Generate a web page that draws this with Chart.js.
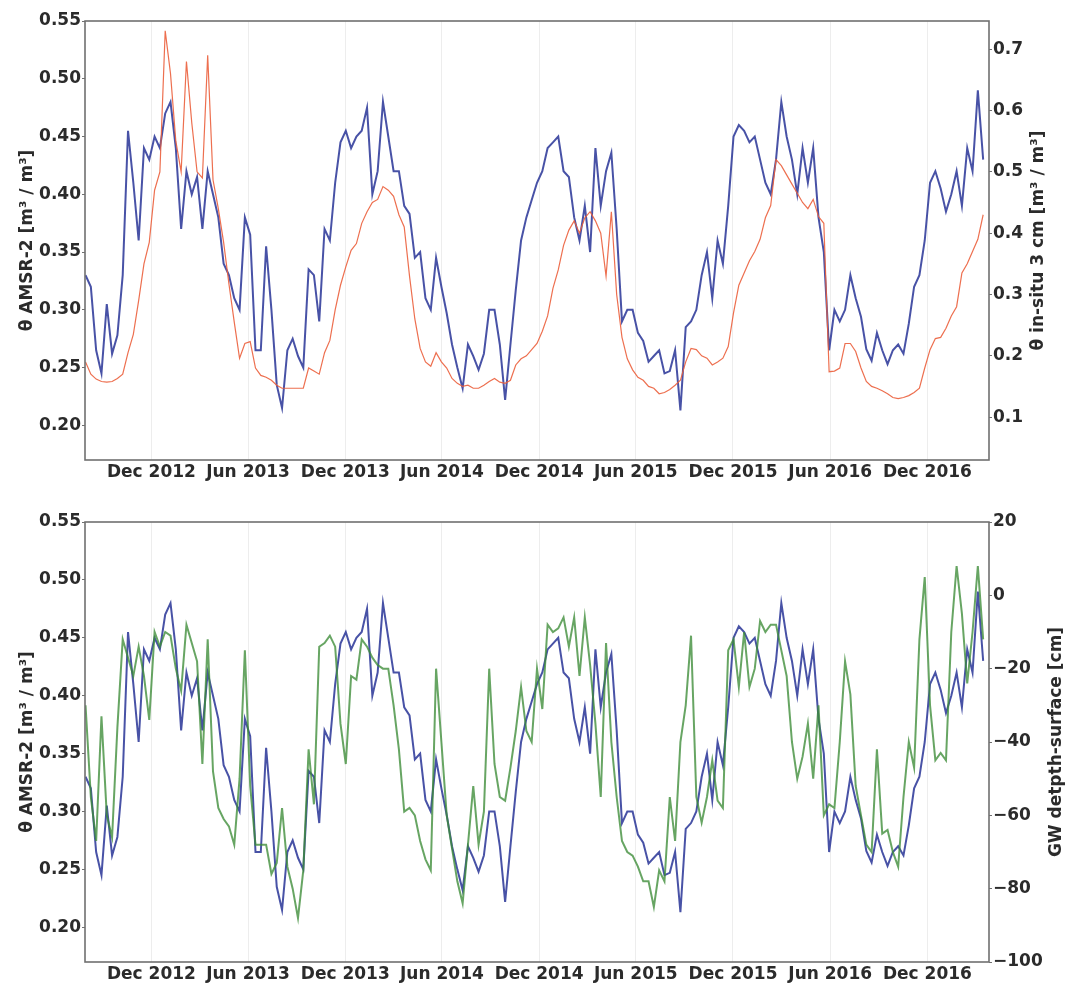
<!DOCTYPE html>
<html>
<head>
<meta charset="utf-8">
<script src="https://cdn.jsdelivr.net/npm/chart.js@4.4.0/dist/chart.umd.min.js"></script>
<style>
  body { margin: 0; background: #fff; }
  .panel { position: absolute; left: 0; width: 1071px; }
  #top { top: 0; height: 490px; }
  #bottom { top: 490px; height: 493px; }
</style>
</head>
<body>
<div class="panel" id="top"><canvas id="topChart"></canvas></div>
<div class="panel" id="bottom"><canvas id="bottomChart"></canvas></div>
<script>
// samples every 10 days from the start date
const startDate = '2012-07-30';
const stepDays = 10;
const xRange = ['2012-07-29', '2017-03-27'];

// θ AMSR-2 [m3/m3]
const amsr2 = [
  0.33, 0.32, 0.265, 0.245, 0.305, 0.262, 0.278, 0.33, 0.455, 0.41,
  0.36, 0.44, 0.43, 0.45, 0.44, 0.47, 0.48, 0.44, 0.37, 0.42,
  0.40, 0.415, 0.37, 0.42, 0.40, 0.38, 0.34, 0.33, 0.31, 0.30,
  0.38, 0.365, 0.265, 0.265, 0.355, 0.30, 0.235, 0.215, 0.265, 0.275,
  0.26, 0.25, 0.335, 0.33, 0.29, 0.37, 0.36, 0.41, 0.445, 0.455,
  0.44, 0.45, 0.455, 0.475, 0.40, 0.42, 0.48, 0.45, 0.42, 0.42,
  0.39, 0.383, 0.345, 0.35, 0.31, 0.30, 0.345, 0.32, 0.297, 0.27,
  0.25, 0.232, 0.27, 0.26, 0.248, 0.262, 0.30, 0.30, 0.27, 0.222,
  0.27, 0.317, 0.36, 0.38, 0.395, 0.41, 0.42, 0.44, 0.445, 0.45,
  0.42, 0.415, 0.38, 0.36, 0.39, 0.35, 0.44, 0.39, 0.42, 0.436,
  0.37, 0.29, 0.30, 0.30, 0.28, 0.273, 0.255, 0.26, 0.265, 0.245,
  0.247, 0.265, 0.213, 0.285, 0.29, 0.30, 0.33, 0.35, 0.31, 0.36,
  0.34, 0.39, 0.45, 0.46, 0.455, 0.445, 0.45, 0.43, 0.41, 0.40,
  0.43, 0.48, 0.45, 0.43, 0.40, 0.44, 0.41, 0.44, 0.38, 0.35,
  0.265, 0.30, 0.29, 0.30, 0.33, 0.31, 0.294, 0.266, 0.256, 0.28,
  0.265, 0.253, 0.265, 0.27, 0.262, 0.288, 0.32, 0.33, 0.36, 0.41,
  0.42, 0.405, 0.385, 0.40, 0.42, 0.39, 0.44, 0.42, 0.49, 0.43
];

// θ in-situ 3 cm [m3/m3]
const insitu = [
  0.19, 0.17, 0.162, 0.158, 0.157, 0.158, 0.163, 0.17, 0.205, 0.235,
  0.29, 0.35, 0.385, 0.47, 0.50, 0.73, 0.66, 0.55, 0.50, 0.68,
  0.58, 0.50, 0.49, 0.69, 0.487, 0.44, 0.385, 0.317, 0.255, 0.196,
  0.22, 0.223, 0.18, 0.168, 0.165, 0.16, 0.152, 0.147, 0.147, 0.147,
  0.147, 0.147, 0.18, 0.175, 0.17, 0.205, 0.225, 0.275, 0.315, 0.345,
  0.372, 0.383, 0.416, 0.435, 0.45, 0.455, 0.476, 0.47, 0.46, 0.43,
  0.41, 0.33, 0.26, 0.212, 0.19, 0.183, 0.205, 0.19, 0.18, 0.163,
  0.155, 0.15, 0.152, 0.147, 0.147, 0.152, 0.158, 0.163, 0.157, 0.155,
  0.16, 0.185, 0.195, 0.20, 0.21, 0.22, 0.24, 0.265, 0.31, 0.34,
  0.38, 0.405, 0.42, 0.40, 0.425, 0.435, 0.42, 0.40, 0.33, 0.435,
  0.30, 0.23, 0.195, 0.177, 0.165, 0.16, 0.15, 0.147, 0.138, 0.14,
  0.145, 0.152, 0.16, 0.19, 0.212, 0.21, 0.20, 0.196, 0.185, 0.19,
  0.196, 0.215, 0.27, 0.315, 0.335, 0.355, 0.37, 0.39, 0.425, 0.445,
  0.52, 0.51, 0.495, 0.48, 0.465, 0.45, 0.44, 0.455, 0.427, 0.416,
  0.174, 0.175, 0.18, 0.22, 0.22, 0.207, 0.18, 0.158, 0.15, 0.147,
  0.143, 0.138, 0.132, 0.13, 0.132, 0.135, 0.14, 0.147, 0.18, 0.21,
  0.228, 0.23, 0.245, 0.265, 0.28, 0.335, 0.35, 0.37, 0.39, 0.43
];

// GW depth below surface [cm]
const gwDepth = [
  -30, -55, -67, -33, -60, -66, -36, -12, -17, -22,
  -14, -22, -34, -10, -14, -10, -11, -20, -26, -8,
  -13, -18, -46, -12, -48, -58, -61, -63, -68, -50,
  -15, -52, -68, -68, -68, -76, -73, -58, -74, -80,
  -88, -75, -42, -57, -14, -13, -11, -14, -35, -46,
  -22, -23, -12, -14, -17, -19, -20, -20, -30, -42,
  -59, -58, -60, -67, -72, -75, -20, -40, -60, -69,
  -78, -84, -68, -52, -68, -59, -20, -46, -55, -56,
  -47, -37, -25, -37, -40, -20, -31, -8, -10, -9,
  -6, -14, -6, -22, -6, -19, -35, -55, -13, -40,
  -55, -67, -70, -71, -74, -78, -78, -85, -75, -78,
  -55, -67, -40, -30, -11, -55, -62, -55, -45, -56,
  -58, -15, -12, -25, -10, -25, -20, -7, -10, -8,
  -8, -15, -22, -40, -50, -44, -35, -50, -30, -60,
  -57, -58, -40, -18, -27, -52, -60, -68, -70, -42,
  -65, -64, -70, -74, -55, -40, -47, -12, 5, -30,
  -45, -43, -45, -10, 8, -5, -24, -10, 8, -12
];

const xTickDates = ['2012-12-01', '2013-06-01', '2013-12-01', '2014-06-01', '2014-12-01',
  '2015-06-01', '2015-12-01', '2016-06-01', '2016-12-01'];
const xTickLabels = ['Dec 2012', 'Jun 2013', 'Dec 2013', 'Jun 2014', 'Dec 2014',
  'Jun 2015', 'Dec 2015', 'Jun 2016', 'Dec 2016'];
const amsrTicks = [0.20, 0.25, 0.30, 0.35, 0.40, 0.45, 0.50, 0.55];
const insituTicks = [0.1, 0.2, 0.3, 0.4, 0.5, 0.6, 0.7];
const gwTicks = [-100, -80, -60, -40, -20, 0, 20];

const day = s => Date.parse(s) / 86400000;
const x0 = day(startDate);
const series = vals => vals.map((v, i) => ({ x: x0 + i * stepDays, y: v }));

const textColor = '#2b2b2b';
const font = { family: "'DejaVu Sans', sans-serif", size: 17, weight: 'bold' };
const spine = '#707070';

// box around the plot + right axis label (reads bottom-to-top like matplotlib)
const framePlugin = {
  id: 'frame',
  afterDatasetsDraw(chart, args, opts) {
    const { ctx, chartArea: a } = chart;
    ctx.save();
    ctx.strokeStyle = spine;
    ctx.lineWidth = 1.6;
    ctx.strokeRect(a.left, a.top, a.right - a.left, a.bottom - a.top);
    ctx.fillStyle = textColor;
    ctx.font = 'bold 17px "DejaVu Sans"';
    ctx.translate(chart.width - opts.offset, (a.top + a.bottom) / 2);
    ctx.rotate(-Math.PI / 2);
    ctx.textAlign = 'center';
    ctx.textBaseline = 'middle';
    ctx.fillText(opts.text, 0, 0);
    ctx.restore();
  }
};

function yAxis(position, range, ticks, fmt, width, title) {
  return {
    type: 'linear',
    position: position,
    min: range[0],
    max: range[1],
    afterBuildTicks: s => { s.ticks = ticks.map(v => ({ value: v })); },
    afterFit: s => { s.width = width; },
    grid: { drawOnChartArea: false, drawTicks: true, tickLength: 3, tickColor: spine },
    border: { display: false },
    ticks: { font: font, color: textColor, padding: 1, callback: fmt },
    title: title ? { display: true, text: title, font: font, color: textColor, padding: { top: 17, bottom: 0 } }
                 : { display: false }
  };
}

function panel(id, right, padTop, xHeight) {
  return new Chart(document.getElementById(id), {
    type: 'line',
    data: {
      datasets: [
        { label: right.label, data: series(right.values), yAxisID: 'yR',
          borderColor: right.color, borderWidth: right.width, order: 1 },
        { label: 'θ AMSR-2', data: series(amsr2), yAxisID: 'yL',
          borderColor: 'rgba(40, 52, 150, 0.85)', borderWidth: 2, order: 2 }
      ]
    },
    options: {
      responsive: true,
      maintainAspectRatio: false,
      animation: false,
      elements: { point: { radius: 0 }, line: { tension: 0, fill: false } },
      layout: { padding: { top: padTop, left: 0, right: 0, bottom: 0 } },
      plugins: {
        legend: { display: false },
        tooltip: { enabled: false },
        frame: { text: right.title, offset: right.titleOffset }
      },
      scales: {
        x: {
          type: 'linear',
          min: day(xRange[0]),
          max: day(xRange[1]),
          afterBuildTicks: s => { s.ticks = xTickDates.map(d => ({ value: day(d) })); },
          afterFit: s => { s.height = xHeight; },
          grid: { color: 'rgba(0,0,0,0.07)', lineWidth: 1, drawTicks: false },
          border: { display: false },
          ticks: { font: font, color: textColor, padding: 2, autoSkip: false,
                   maxRotation: 0, minRotation: 0, callback: (v, i) => xTickLabels[i] }
        },
        yL: yAxis('left', [0.17, 0.55], amsrTicks, v => v.toFixed(2), 85, 'θ AMSR-2 [m³ / m³]'),
        yR: yAxis('right', right.range, right.ticks, right.fmt, 82, null)
      }
    },
    plugins: [framePlugin]
  });
}

panel('topChart', {
  label: 'θ in-situ 3 cm', values: insitu, color: 'rgba(235, 95, 60, 0.9)', width: 1.2,
  range: [0.03, 0.746], ticks: insituTicks, fmt: v => v.toFixed(1),
  title: 'θ in-situ 3 cm [m³ / m³]', titleOffset: 32
}, 21, 30);

panel('bottomChart', {
  label: 'GW depth', values: gwDepth, color: 'rgba(60, 140, 55, 0.78)', width: 2,
  range: [-100, 20], ticks: gwTicks, fmt: v => (v < 0 ? '\u2212' + Math.abs(v) : String(v)),
  title: 'GW detpth-surface [cm]', titleOffset: 14
}, 32, 21);
</script>
</body>
</html>
